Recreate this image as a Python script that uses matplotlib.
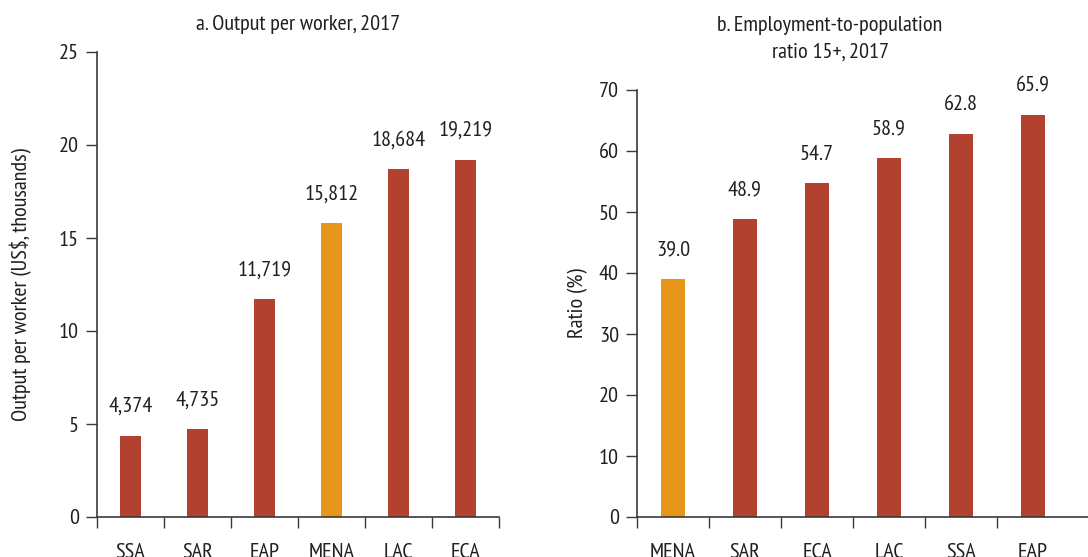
import matplotlib
matplotlib.use("Agg")
import matplotlib.pyplot as plt
from matplotlib.ticker import FixedLocator, NullFormatter

# Panel a: output per worker, 2017 (US$)
regions_a = ["SSA", "SAR", "EAP", "MENA", "LAC", "ECA"]
output_a = [4374, 4735, 11719, 15812, 18684, 19219]

# Panel b: employment-to-population ratio 15+, 2017 (%)
regions_b = ["MENA", "SAR", "ECA", "LAC", "SSA", "EAP"]
ratio_b = [39.0, 48.9, 54.7, 58.9, 62.8, 65.9]

HIGHLIGHT = "MENA"
RED = "#b24130"
ORANGE = "#e8961a"
INK = "#231f20"
SPINE = "#3a3a3a"

plt.rcParams.update({
    "font.family": ["PT Sans Narrow", "Fira Sans Condensed", "Asap Condensed",
                    "DejaVu Sans"],
    "font.size": 15,
    "text.color": INK,
    "axes.labelcolor": INK,
    "xtick.color": SPINE,
    "ytick.color": SPINE,
    "xtick.labelcolor": INK,
    "ytick.labelcolor": INK,
})

W, H = 1088, 557
FS = 16
fig = plt.figure(figsize=(W / 100, H / 100), dpi=100)


def px_axes(x0, y_bottom, x1, y_top):
    # pixel box (from top-left) -> figure fraction
    return fig.add_axes([x0 / W, (H - y_bottom) / H, (x1 - x0) / W,
                         (y_bottom - y_top) / H])


def bar_panel(ax, cats, vals, labels, ymax, yticks, xmax, nbound):
    colors = [ORANGE if c == HIGHLIGHT else RED for c in cats]
    x = list(range(len(cats)))
    ax.bar(x, vals, width=0.32, color=colors, edgecolor="none", zorder=2)
    for xi, v, lab in zip(x, vals, labels):
        ax.annotate(lab, (xi, v), xytext=(0, 14), textcoords="offset points",
                    ha="center", va="bottom", fontsize=FS)

    ax.set_xlim(-0.5, xmax)
    ax.set_ylim(0, ymax)
    ax.set_yticks(yticks)
    ax.tick_params(axis="y", direction="out", length=8, width=1, pad=5,
                   labelsize=FS)

    # ticks between categories, labels centred under bars
    ax.xaxis.set_major_locator(FixedLocator([i - 0.5 for i in range(nbound)]))
    ax.xaxis.set_major_formatter(NullFormatter())
    ax.xaxis.set_minor_locator(FixedLocator(x))
    ax.set_xticklabels(cats, minor=True)
    ax.tick_params(axis="x", which="major", direction="out", length=8, width=1)
    ax.tick_params(axis="x", which="minor", length=0, pad=19, labelsize=FS)

    for side in ("top", "right"):
        ax.spines[side].set_visible(False)
    for side in ("left", "bottom"):
        ax.spines[side].set_color(SPINE)
        ax.spines[side].set_linewidth(1.2)


ax_a = px_axes(97, 517, 499, 52)
bar_panel(ax_a, regions_a, [v / 1000 for v in output_a],
          [f"{v:,}" for v in output_a], 25, range(0, 26, 5), 5.5, 7)
ax_a.set_ylabel("Output per worker (US$, thousands)", fontsize=FS,
                va="center")
ax_a.yaxis.set_label_coords((21 - 97) / 402, 0.5)

ax_b = px_axes(637, 517, 1088, 90)
bar_panel(ax_b, regions_b, ratio_b, [f"{v:.1f}" for v in ratio_b],
          70, range(0, 71, 10), (1088 - 637) / 72 - 0.5, 6)
ax_b.set_ylabel("Ratio (%)", fontsize=FS, va="center")
ax_b.yaxis.set_label_coords((578 - 637) / 451, 0.5)

fig.text(298 / W, 1 - 25 / H, "a. Output per worker, 2017",
         ha="center", va="center", fontsize=FS)
fig.text(830 / W, 1 - 39 / H, "b. Employment-to-population\nratio 15+, 2017",
         ha="center", va="center", fontsize=FS, linespacing=1.55)

fig.savefig("out.png", dpi=100)
